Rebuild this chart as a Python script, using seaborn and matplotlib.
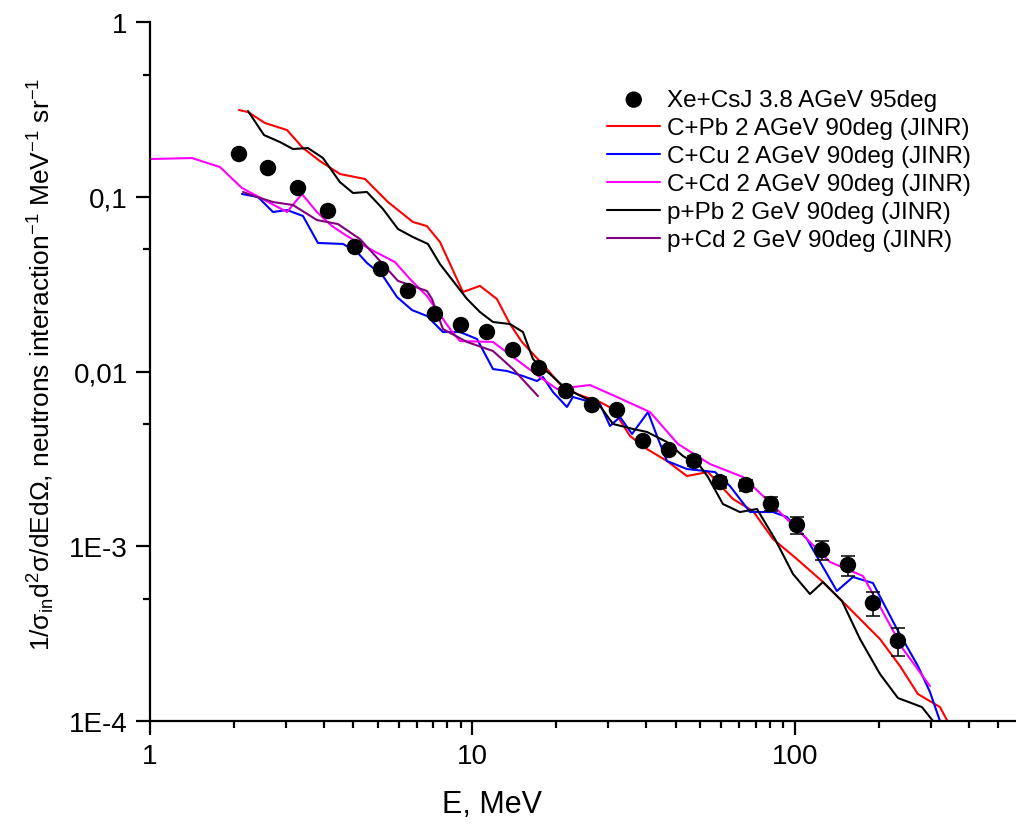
import matplotlib
matplotlib.use('Agg')
import matplotlib.pyplot as plt
import seaborn as sns
from matplotlib.ticker import FixedLocator, FixedFormatter, NullFormatter

# Xe+CsJ measured points (E in MeV, yield)
e_xe = [1.888, 2.322, 2.877, 3.564, 4.322, 5.204, 6.31, 7.65, 9.21, 11.09, 13.36, 16.08, 19.5,
        23.48, 28.06, 33.8, 40.68, 48.63, 58.53, 70.5, 84.25, 101.4, 121.3, 146.0, 174.5, 208.6]
y_xe = [0.1757, 0.146, 0.1122, 0.0829, 0.0516, 0.0386, 0.0289, 0.02133, 0.01845, 0.01683, 0.01327,
        0.01047, 0.00773, 0.00643, 0.00602, 0.0040, 0.003555, 0.003076, 0.00233, 0.00224, 0.001745,
        0.001323, 9.52e-4, 7.81e-4, 4.73e-4, 2.87e-4]
yerr_xe = [0, 0, 0, 0, 0, 0, 0, 0, 0, 0, 0, 0, 0, 0, 0, 0, 0, 2.0e-4, 1.7e-4, 1.6e-4, 1.6e-4,
           1.4e-4, 1.2e-4, 1.03e-4, 7.5e-5, 5.3e-5]

# C+Pb 2 AGeV
e_cpb = [1.888, 2.014, 2.274, 2.66, 2.982, 3.366, 3.882, 4.642, 5.47, 6.54, 7.22, 7.93, 9.34, 10.55,
         11.91, 13.07, 14.24, 17.02, 18.67, 21.09, 24.85, 27.28, 30.78, 34.76, 40.09, 46.24, 53.73,
         64.24, 74.11, 85.5, 101.4, 122.2, 148.1, 183.5, 211.7, 240.6, 281.6, 298.2]
y_cpb = [0.3135, 0.3055, 0.2642, 0.241, 0.190, 0.160, 0.135, 0.1264, 0.0933, 0.0717, 0.068, 0.0551,
         0.0285, 0.0309, 0.026, 0.0187, 0.01476, 0.01033, 0.00848, 0.00743, 0.00669, 0.0061, 0.00428,
         0.0036, 0.003076, 0.002523, 0.00266, 0.001864, 0.00159, 0.0011, 8.45e-4, 6.24e-4, 4.38e-4,
         2.945e-4, 2.064e-4, 1.427e-4, 1.202e-4, 9.87e-5]

# C+Cu 2 AGeV
e_ccu = [1.929, 2.162, 2.407, 2.66, 2.982, 3.318, 3.967, 4.385, 4.709, 5.278, 5.833, 6.493, 7.226,
         8.099, 9.147, 10.33, 11.58, 12.79, 14.34, 15.85, 16.54, 17.77, 19.63, 20.49, 22.65, 24.85,
         26.69, 28.68, 31.24, 35.02, 37.33, 40.09, 46.25, 56.48, 62.86, 72.53, 85.5, 94.45, 108.9,
         134.9, 151.3, 174.5, 207.2, 240.6, 262.2, 281.6]
y_ccu = [0.1037, 0.0997, 0.0818, 0.084, 0.0776, 0.0544, 0.0537, 0.0483, 0.0418, 0.0352, 0.0267,
         0.02248, 0.02078, 0.01683, 0.01683, 0.01535, 0.01033, 0.01007, 0.00942, 0.00882, 0.0093,
         0.00763, 0.00627, 0.00715, 0.00678, 0.00652, 0.00488, 0.00549, 0.00439, 0.00586, 0.00428,
         0.003076, 0.002767, 0.00266, 0.002212, 0.00157, 0.00157, 0.00147, 0.0011, 5.545e-4,
         6.67e-4, 6.16e-4, 3.36e-4, 2.064e-4, 1.466e-4, 1.0e-4]

# C+Cd 2 AGeV
e_ccd = [1.0, 1.35, 1.648, 1.929, 2.147, 2.66, 2.96, 3.294, 3.667, 4.082, 4.81, 5.751, 6.401, 7.226,
         8.52, 9.147, 11.58, 13.36, 16.19, 18.28, 23.14, 28.06, 35.52, 43.38, 54.5, 69.0, 79.6, 96.5,
         117.0, 128.4, 162.5, 187.5, 216.3, 262.2]
y_ccd = [0.1644, 0.1666, 0.148, 0.1122, 0.101, 0.0818, 0.1037, 0.0818, 0.068, 0.0596, 0.0502, 0.0423,
         0.0338, 0.02704, 0.0175, 0.01494, 0.01476, 0.0121, 0.0093, 0.00794, 0.00837, 0.00715,
         0.00586, 0.003847, 0.002956, 0.00249, 0.00194, 0.001376, 9.65e-4, 8.13e-4, 6.76e-4, 4.2e-4,
         2.58e-4, 1.586e-4]

# p+Pb 2 GeV
e_ppb = [2.014, 2.257, 2.53, 2.776, 3.09, 3.44, 3.88, 4.262, 4.708, 5.279, 5.875, 6.54, 7.278, 7.93,
         9.62, 10.55, 11.58, 13.07, 14.34, 15.4, 16.19, 17.39, 19.08, 21.09, 22.65, 24.85, 27.28,
         31.46, 34.75, 40.09, 44.95, 50.76, 53.73, 59.8, 67.5, 76.25, 86.7, 98.6, 111.3, 122.1,
         139.9, 159.1, 183.5, 208.6, 247.6, 267.9]
y_ppb = [0.3095, 0.2256, 0.2057, 0.1876, 0.190, 0.1666, 0.1214, 0.1051, 0.1065, 0.0851, 0.0654,
         0.0588, 0.0537, 0.0412, 0.026, 0.0219, 0.0192, 0.0187, 0.01683, 0.01179, 0.01075, 0.00968,
         0.00826, 0.00743, 0.00696, 0.00635, 0.00501, 0.00469, 0.00451, 0.00395, 0.003284, 0.00288,
         0.00249, 0.001745, 0.00157, 0.001634, 0.0011, 6.94e-4, 5.33e-4, 6.24e-4, 4.86e-4, 2.946e-4,
         1.858e-4, 1.354e-4, 1.202e-4, 1.0e-4]

# p+Cd 2 GeV
e_pcd = [1.943, 2.147, 2.407, 2.776, 3.294, 3.827, 4.479, 5.167, 5.875, 7.226, 7.49, 8.099, 9.62,
         11.58, 13.36, 15.96]
y_pcd = [0.1065, 0.0997, 0.0933, 0.0897, 0.0736, 0.0698, 0.0573, 0.0429, 0.033, 0.0289, 0.026,
         0.0175, 0.01476, 0.0131, 0.01033, 0.00724]

labels = ['Xe+CsJ 3.8 AGeV 95deg', 'C+Pb 2 AGeV 90deg (JINR)', 'C+Cu 2 AGeV 90deg (JINR)',
          'C+Cd 2 AGeV 90deg (JINR)', 'p+Pb 2 GeV 90deg (JINR)', 'p+Cd 2 GeV 90deg (JINR)']
y_ticks = [1e-4, 1e-3, 1e-2, 1e-1, 1]
y_tick_labels = ['1E-4', '1E-3', '0,01', '0,1', '1']

sns.set_style('ticks')
plt.rcParams['font.family'] = ['Liberation Sans', 'DejaVu Sans']
plt.rcParams['mathtext.default'] = 'regular'
plt.rcParams['text.color'] = 'black'
plt.rcParams['axes.labelcolor'] = 'black'

fig = plt.figure(figsize=(10.16, 8.28), dpi=100)
ax = fig.add_axes([0.1476, 0.128, 0.8567, 0.8442])
ax.set_xscale('log')
ax.set_yscale('log')

curves = [(e_cpb, y_cpb, '#FF0000'), (e_ccu, y_ccu, '#0000FF'), (e_ccd, y_ccd, '#FF00FF'),
          (e_ppb, y_ppb, '#000000'), (e_pcd, y_pcd, '#800080')]
for (xs, ys, col), lab in zip(curves, labels[1:]):
    sns.lineplot(x=xs, y=ys, color=col, lw=1.5, sort=False, estimator=None, ax=ax, label=lab)

ax.errorbar(e_xe, y_xe, yerr=yerr_xe, fmt='none', ecolor='black', elinewidth=1.1,
            capsize=5, capthick=1.1, zorder=4)
sns.scatterplot(x=e_xe, y=y_xe, color='black', s=140, edgecolor='none', ax=ax,
                label=labels[0], zorder=5)

ax.set_xlim(1, 500)
ax.set_ylim(1e-4, 1)

ax.xaxis.set_major_locator(FixedLocator([1, 10, 100]))
ax.xaxis.set_major_formatter(FixedFormatter(['1', '10', '100']))
ax.xaxis.set_minor_locator(FixedLocator([10 ** k * (1 + 9 * j / 11) for k in range(3) for j in range(1, 11)]))
ax.xaxis.set_minor_formatter(NullFormatter())
ax.yaxis.set_major_locator(FixedLocator(y_ticks))
ax.yaxis.set_major_formatter(FixedFormatter(y_tick_labels))
ax.yaxis.set_minor_locator(FixedLocator([5e-4, 5e-3, 5e-2, 0.5]))
ax.yaxis.set_minor_formatter(NullFormatter())

sns.despine(ax=ax)
for s in ['left', 'bottom']:
    ax.spines[s].set_linewidth(1.6)
    ax.spines[s].set_color('black')
ax.tick_params(which='major', direction='out', length=10, width=1.6, labelsize=20, pad=6,
               colors='black', labelcolor='black')
ax.tick_params(which='minor', direction='out', length=5, width=1.6, colors='black')

ax.set_xlabel('E, MeV', fontsize=22)
ax.xaxis.set_label_coords(0.393, -0.097)
ax.set_ylabel('1/σ$_{in}$d$^{2}$σ/dEdΩ, neutrons interaction$^{-1}$ MeV$^{-1}$ sr$^{-1}$', fontsize=19)
ax.yaxis.set_label_coords(-0.107, 0.511)

handles, labs = ax.get_legend_handles_labels()
order = [labs.index(l) for l in labels]
leg = ax.legend([handles[i] for i in order], [labs[i] for i in order], loc='upper left',
                bbox_to_anchor=(607 / 1016, 1 - 90 / 828), bbox_transform=fig.transFigure,
                frameon=False, fontsize=17.5, handlelength=2.2, handletextpad=0.25,
                labelspacing=0.25, borderpad=0, borderaxespad=0)
for t in leg.get_texts():
    t.set_color('black')

fig.savefig('out.png', dpi=100)
